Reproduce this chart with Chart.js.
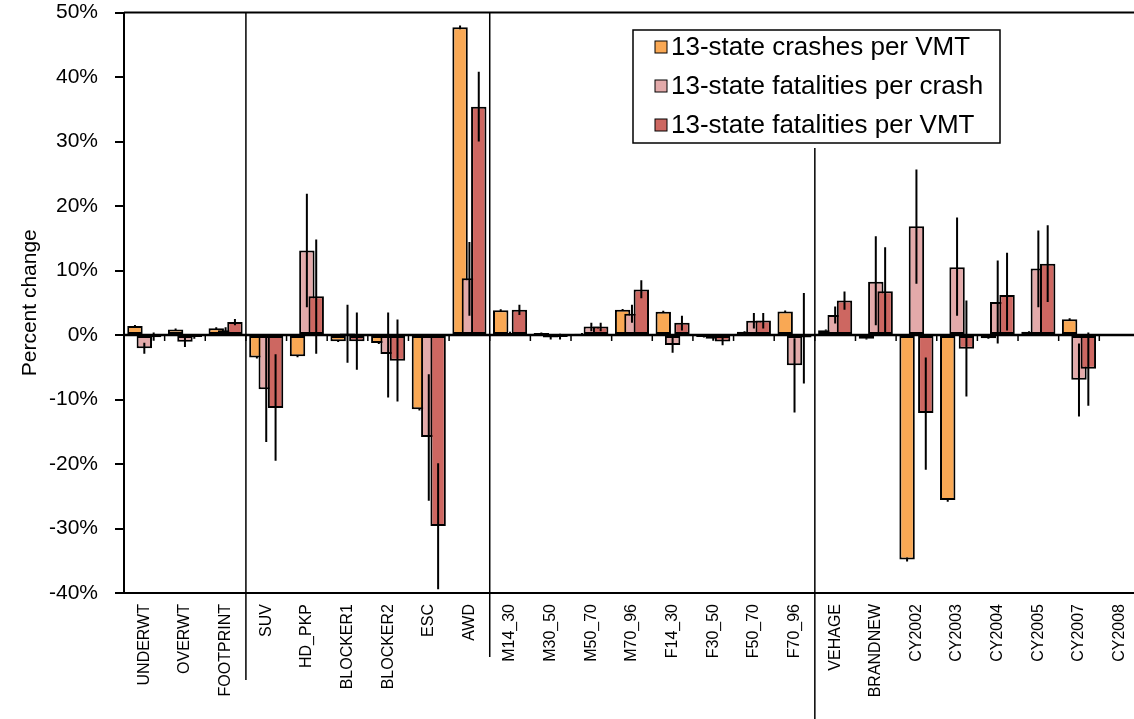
<!DOCTYPE html>
<html>
<head>
<meta charset="utf-8">
<script src="https://cdn.jsdelivr.net/npm/chart.js@4.4.0/dist/chart.umd.min.js"></script>
<style>
  html, body { margin: 0; padding: 0; background: #fff; overflow: hidden; }
  #wrap { width: 1150px; height: 719px; position: relative; }
</style>
</head>
<body>
<div id="wrap"><canvas id="chart"></canvas></div>
<script>
// categories along the x axis
const categories = ['UNDERWT', 'OVERWT', 'FOOTPRINT', 'SUV', 'HD_PKP', 'BLOCKER1', 'BLOCKER2', 'ESC', 'AWD',
  'M14_30', 'M30_50', 'M50_70', 'M70_96', 'F14_30', 'F30_50', 'F50_70', 'F70_96',
  'VEHAGE', 'BRANDNEW', 'CY2002', 'CY2003', 'CY2004', 'CY2005', 'CY2007', 'CY2008'];

const seriesNames = ['13-state crashes per VMT', '13-state fatalities per crash', '13-state fatalities per VMT'];

// percent change
const crashesPerVMT = [1.4, 0.85, 1.05, -3.5, -3.3, -0.95, -1.25, -11.5, 47.7, 3.85, 0.3, 0.2, 3.9, 3.6, -0.3, 0.5, 3.65,
  0.75, -0.6, -34.8, -25.6, -0.5, 0.5, 2.45, 0];
const crashesErr = [0.15, 0.15, 0.15, 0.15, 0.15, 0.15, 0.15, 0.2, 0.3, 0.15, 0.1, 0.1, 0.15, 0.15, 0.1, 0.1, 0.15,
  0.1, 0.1, 0.3, 0.25, 0.1, 0.1, 0.15, 0];

const fatalPerCrash = [-2.05, -1.05, 0.75, -8.4, 13.1, 0.25, -2.95, -15.8, 8.8, 0.3, -0.4, 1.3, 3.3, -1.55, -0.6, 2.2, -4.7,
  3.1, 8.25, 16.85, 10.5, 5.1, 10.3, -6.95, 0];
const fatalPerCrashLo = [-2.9, -1.85, 0.3, -16.6, 4.3, -4.3, -9.7, -25.7, 3.0, 0.1, -0.7, 0.6, 1.9, -2.75, -0.9, 1.0, -12.0,
  1.8, 1.5, 7.95, 3.0, -1.3, 4.3, -12.65, null];
const fatalPerCrashHi = [-1.2, -0.3, 1.2, -0.2, 21.9, 4.7, 3.5, -6.1, 14.4, 0.5, -0.1, 1.9, 4.7, -0.4, -0.3, 3.4, -0.5,
  4.4, 15.3, 25.65, 18.2, 11.55, 16.2, -1.3, null];

const fatalPerVMT = [-0.35, -0.3, 2.0, -11.3, 6.0, -0.95, -4.0, -29.6, 35.4, 3.9, -0.3, 1.3, 7.05, 1.9, -1.0, 2.25, -0.4,
  5.35, 6.8, -12.1, -2.15, 6.2, 11.05, -5.25, 0];
const fatalPerVMTLo = [-0.9, -0.6, 1.5, -19.5, -2.9, -5.4, -10.3, -39.4, 30.0, 3.1, -0.7, 0.6, 5.7, 0.7, -1.6, 1.0, -7.5,
  3.9, 0.0, -20.9, -9.55, 0.7, 5.1, -10.95, null];
const fatalPerVMTHi = [0.4, 0.0, 2.5, -3.0, 14.8, 3.5, 2.4, -19.9, 40.8, 4.7, 0.2, 1.9, 8.5, 3.0, -0.3, 3.4, 6.5,
  6.75, 13.6, -3.5, 5.35, 12.75, 17.0, 0.4, null];

const yTickValues = [-40, -30, -20, -10, 0, 10, 20, 30, 40, 50];

// last category of each group, a vertical rule follows it
const groupEnds = [2, 8, 16];

const colors = ['#F9A854', '#E3AAAA', '#CD6761'];
const fontFamily = '"Liberation Sans", Arial, sans-serif';

function bars(label, data, lo, hi, color) {
  return {
    label: label,
    data: data,
    errLo: lo,
    errHi: hi,
    backgroundColor: color,
    borderColor: '#000',
    borderWidth: 2,
    borderSkipped: false,
    categoryPercentage: 0.69,
    barPercentage: 1.65
  };
}

// bars drawn left to right so the later series sit on top, each with its error line
const barsInOrder = {
  id: 'barsInOrder',
  beforeDatasetsDraw(chart) {
    const ctx = chart.ctx;
    const area = chart.chartArea;
    const y = chart.scales.y;
    ctx.save();
    ctx.beginPath();
    ctx.rect(area.left, area.top, area.right - area.left, area.bottom - area.top);
    ctx.clip();
    const metas = chart.getSortedVisibleDatasetMetas().slice().sort((a, b) => a.index - b.index);
    metas.forEach(function (meta) {
      meta.controller.draw();
      const ds = chart.data.datasets[meta.index];
      ctx.strokeStyle = '#000';
      ctx.lineWidth = 2;
      meta.data.forEach(function (bar, j) {
        if (ds.errLo[j] == null) return;
        ctx.beginPath();
        ctx.moveTo(bar.x, y.getPixelForValue(ds.errLo[j]));
        ctx.lineTo(bar.x, y.getPixelForValue(ds.errHi[j]));
        ctx.stroke();
      });
    });
    ctx.restore();
    return false;
  }
};

const frame = {
  id: 'frame',
  afterDraw(chart) {
    const ctx = chart.ctx;
    const area = chart.chartArea;
    const x = chart.scales.x;
    const y = chart.scales.y;
    const zero = y.getPixelForValue(0);
    const half = (x.getPixelForValue(1) - x.getPixelForValue(0)) / 2;
    ctx.save();
    ctx.strokeStyle = '#000';

    // zero line with category ticks
    ctx.lineWidth = 2.5;
    ctx.beginPath();
    ctx.moveTo(area.left, zero);
    ctx.lineTo(area.right, zero);
    ctx.stroke();
    ctx.lineWidth = 1.5;
    for (let i = 0; i <= categories.length; i++) {
      const px = x.getPixelForValue(i) - half;
      ctx.beginPath();
      ctx.moveTo(px, zero);
      ctx.lineTo(px, zero + 6);
      ctx.stroke();
    }

    // top border
    ctx.lineWidth = 2;
    ctx.beginPath();
    ctx.moveTo(area.left, area.top);
    ctx.lineTo(area.right, area.top);
    ctx.stroke();

    // group rules
    const ruleTops = [area.top, area.top, 148];
    const ruleBottoms = [680, 657, 719];
    ctx.lineWidth = 1.5;
    groupEnds.forEach(function (g, k) {
      const px = x.getPixelForValue(g) + half;
      ctx.beginPath();
      ctx.moveTo(px, ruleTops[k]);
      ctx.lineTo(px, ruleBottoms[k]);
      ctx.stroke();
    });

    // legend box
    const lx = 633, ly = 30, lw = 367, lh = 113;
    ctx.fillStyle = '#fff';
    ctx.fillRect(lx, ly, lw, lh);
    ctx.lineWidth = 1.5;
    ctx.strokeRect(lx, ly, lw, lh);
    ctx.font = '26px ' + fontFamily;
    ctx.textBaseline = 'middle';
    seriesNames.forEach(function (name, k) {
      const ry = 47 + k * 39;
      ctx.fillStyle = colors[k];
      ctx.fillRect(655, ry - 6, 12, 12);
      ctx.lineWidth = 1;
      ctx.strokeRect(655, ry - 6, 12, 12);
      ctx.fillStyle = '#000';
      ctx.fillText(name, 671, ry + 1);
    });
    ctx.restore();
  }
};

const crashesLo = crashesPerVMT.map((v, i) => v - crashesErr[i]);
const crashesHi = crashesPerVMT.map((v, i) => v + crashesErr[i]);

new Chart(document.getElementById('chart'), {
  type: 'bar',
  data: {
    labels: categories,
    datasets: [
      bars(seriesNames[0], crashesPerVMT, crashesLo, crashesHi, colors[0]),
      bars(seriesNames[1], fatalPerCrash, fatalPerCrashLo, fatalPerCrashHi, colors[1]),
      bars(seriesNames[2], fatalPerVMT, fatalPerVMTLo, fatalPerVMTHi, colors[2])
    ]
  },
  options: {
    responsive: true,
    maintainAspectRatio: false,
    animation: false,
    layout: { padding: { top: 0, right: 9, bottom: 0, left: 0 } },
    plugins: {
      legend: { display: false },
      tooltip: { enabled: false }
    },
    scales: {
      x: {
        grid: { display: false, drawTicks: false },
        border: { display: true, color: '#000', width: 2 },
        ticks: {
          color: '#000',
          font: { family: fontFamily, size: 16 },
          minRotation: 90,
          maxRotation: 90,
          padding: 11,
          autoSkip: false
        },
        afterFit: function (s) { s.height = 126; }
      },
      y: {
        min: yTickValues[0],
        max: yTickValues[yTickValues.length - 1],
        afterBuildTicks: function (s) { s.ticks = yTickValues.map(v => ({ value: v })); },
        grid: { drawOnChartArea: false, drawTicks: true, tickLength: 9, color: '#000', lineWidth: 2 },
        border: { display: true, color: '#000', width: 2 },
        ticks: {
          color: '#000',
          font: { family: fontFamily, size: 21, lineHeight: 1 },
          padding: 17,
          callback: v => v + '%'
        },
        title: {
          display: true,
          text: 'Percent change',
          color: '#000',
          font: { family: fontFamily, size: 21 },
          padding: { top: 18, bottom: 0 }
        },
        afterFit: function (s) {
          s.width = 124;
          s.paddingTop = 12.5;
          s.paddingBottom = 0;
        }
      }
    }
  },
  plugins: [barsInOrder, frame]
});
</script>
</body>
</html>
